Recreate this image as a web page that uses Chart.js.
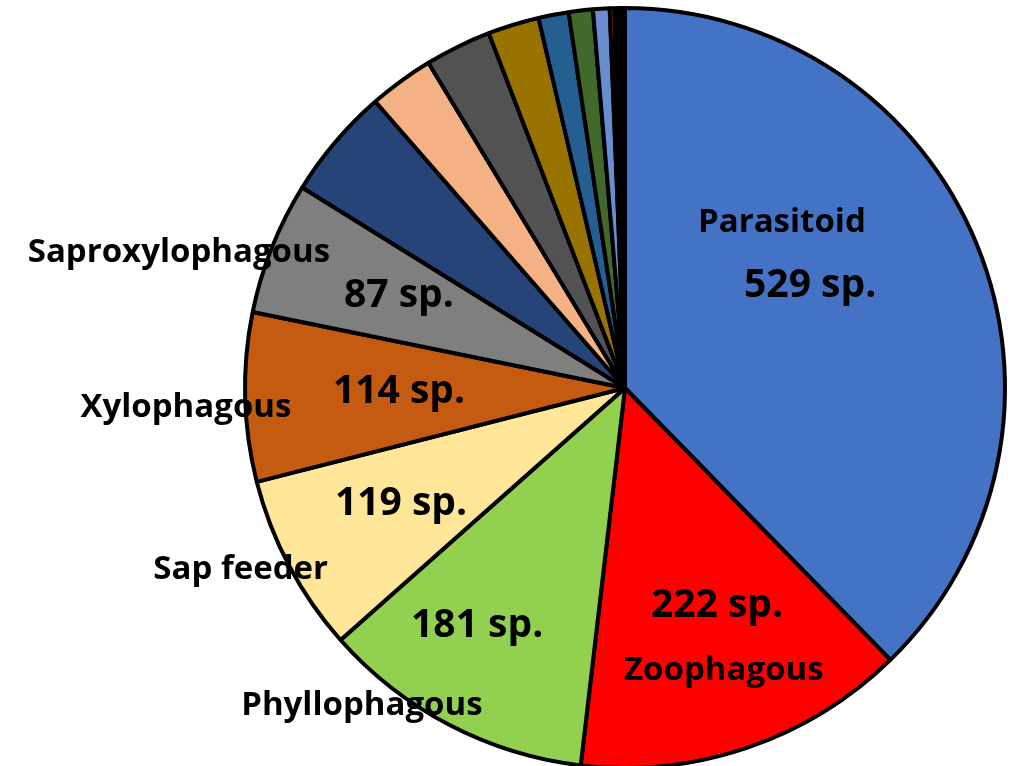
<!DOCTYPE html>
<html>
<head>
<meta charset="utf-8">
<script src="https://cdn.jsdelivr.net/npm/chart.js@4/dist/chart.umd.min.js"></script>
<style>
  html, body { margin: 0; padding: 0; background: #ffffff; overflow: hidden; }
  #wrap { position: relative; width: 1015px; height: 800px; }
</style>
</head>
<body>
<div id="wrap"><canvas id="c" width="1015" height="800"></canvas></div>
<script>
// ---- data ----
const categories = [
  'Parasitoid', 'Zoophagous', 'Phyllophagous', 'Sap feeder', 'Xylophagous',
  'Saproxylophagous', 'Group 7', 'Group 8', 'Group 9', 'Group 10',
  'Group 11', 'Group 12', 'Group 13', 'Group 14', 'Group 15'
];
const speciesValues = [588, 221, 181, 118, 112, 88, 74, 43, 44, 34, 20, 16, 11, 3, 7];
const sliceColors = [
  '#4472C4', '#FF0000', '#92D050', '#FFE699', '#C55A11',
  '#7F7F7F', '#264478', '#F4B183', '#525252', '#997300',
  '#255E91', '#43682B', '#698ED0', '#ED7D31', '#000000'
];
// label texts drawn on/next to slices
const nameLabels  = ['Parasitoid', 'Zoophagous', 'Phyllophagous', 'Sap feeder', 'Xylophagous', 'Saproxylophagous'];
const countLabels = ['529 sp.', '222 sp.', '181 sp.', '119 sp.', '114 sp.', '87 sp.'];

// label placement: [angle clockwise from top (deg), radius fraction]
const namePlacement  = [[45.2, 0.582], [161.3, 0.811], [218.8, 1.105], [243.6, 1.129], [266.2, 1.158], [285.8, 1.22]];
const countPlacement = [[63.8, 0.543], [158.1, 0.649], [210.7, 0.762], [240.4, 0.678], [266.2, 0.596], [289.7, 0.632]];

const labelPlugin = {
  id: 'sliceLabels',
  afterDatasetsDraw(chart) {
    const meta = chart.getDatasetMeta(0);
    const arc0 = meta.data[0];
    const cx = arc0.x, cy = arc0.y, R = arc0.outerRadius;
    const ctx = chart.ctx;
    ctx.save();
    ctx.fillStyle = '#000000';
    ctx.textAlign = 'center';
    ctx.textBaseline = 'alphabetic';
    const draw = (txt, pl, font) => {
      const a = pl[0] * Math.PI / 180;
      const r = pl[1] * R;
      ctx.font = font;
      ctx.fillText(txt, cx + r * Math.sin(a), cy - r * Math.cos(a));
    };
    nameLabels.forEach((t, i) => draw(t, namePlacement[i], 'bold 33px "Open Sans"'));
    countLabels.forEach((t, i) => draw(t, countPlacement[i], 'bold 39px "Open Sans"'));
    ctx.restore();
  }
};

function build() {
  new Chart(document.getElementById('c'), {
    type: 'pie',
    data: {
      labels: categories,
      datasets: [{
        data: speciesValues,
        backgroundColor: sliceColors,
        borderColor: '#000000',
        borderWidth: 4
      }]
    },
    options: {
      responsive: false,
      animation: false,
      layout: { padding: { top: 6, bottom: 30, left: 235, right: 0 } },
      plugins: { legend: { display: false }, tooltip: { enabled: false } }
    },
    plugins: [labelPlugin]
  });
}
if (document.fonts && document.fonts.load) {
  Promise.all([
    document.fonts.load('bold 33px "Open Sans"'),
    document.fonts.load('bold 39px "Open Sans"')
  ]).then(build, build);
} else { build(); }
</script>
</body>
</html>
